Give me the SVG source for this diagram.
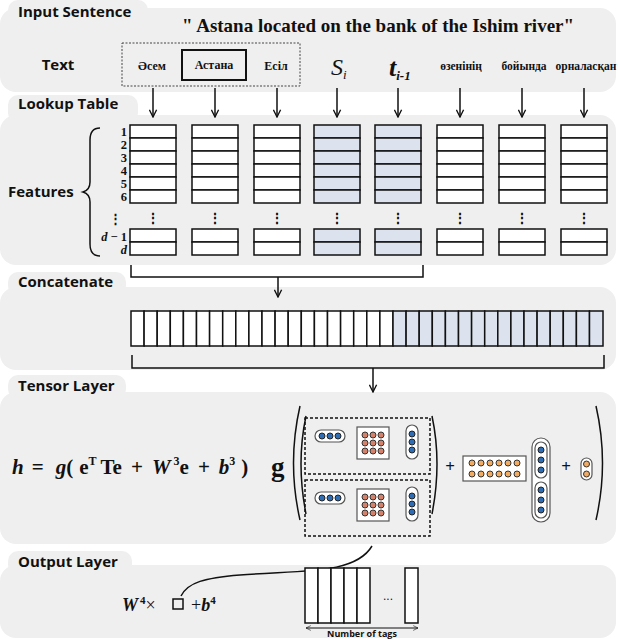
<svg xmlns="http://www.w3.org/2000/svg" width="618" height="640" viewBox="0 0 618 640">
<style>
.pan{fill:#efefef}
.lab{font-family:"Open Sans","Liberation Sans",sans-serif;font-weight:bold;font-size:15px;fill:#111}
.ser{font-family:"Liberation Serif",serif;font-weight:bold;fill:#111}
.cell{fill:#fff;stroke:#111;stroke-width:1.5}
.bcell{fill:#dce3ee;stroke:#111;stroke-width:1.5}
.ln{fill:none;stroke:#111;stroke-width:1.5}
.bd{fill:#2f6db5;stroke:#222;stroke-width:1}
.rd{fill:#d4826b;stroke:#333;stroke-width:1}
.od{fill:#f2ab62;stroke:#333;stroke-width:1}
.cap{fill:#fff;stroke:#555;stroke-width:1.2}
</style>
<defs>
<marker id="ar" viewBox="0 0 10 10" refX="9" refY="5" markerWidth="9" markerHeight="9" orient="auto" markerUnits="userSpaceOnUse"><path d="M1,1 L9,5 L1,9" fill="none" stroke="#111" stroke-width="1.5"/></marker>
<marker id="sa" viewBox="0 0 10 10" refX="9" refY="5" markerWidth="6" markerHeight="6" orient="auto-start-reverse" markerUnits="userSpaceOnUse"><path d="M1,1 L9,5 L1,9" fill="none" stroke="#111" stroke-width="1"/></marker>
<g id="col"><rect class="cell" x="0" y="0" width="46" height="13"/><rect class="cell" x="0" y="13" width="46" height="13"/><rect class="cell" x="0" y="26" width="46" height="13"/><rect class="cell" x="0" y="39" width="46" height="13"/><rect class="cell" x="0" y="52" width="46" height="13"/><rect class="cell" x="0" y="65" width="46" height="13"/><text x="23" y="98" text-anchor="middle" class="ser" font-size="14">⋮</text><rect class="cell" x="0" y="104" width="46" height="13"/><rect class="cell" x="0" y="117" width="46" height="13"/></g>
<g id="bcol"><rect class="bcell" x="0" y="0" width="46" height="13"/><rect class="bcell" x="0" y="13" width="46" height="13"/><rect class="bcell" x="0" y="26" width="46" height="13"/><rect class="bcell" x="0" y="39" width="46" height="13"/><rect class="bcell" x="0" y="52" width="46" height="13"/><rect class="bcell" x="0" y="65" width="46" height="13"/><text x="23" y="98" text-anchor="middle" class="ser" font-size="14">⋮</text><rect class="bcell" x="0" y="104" width="46" height="13"/><rect class="bcell" x="0" y="117" width="46" height="13"/></g>
<g id="blk">
<rect x="0" y="0" width="125" height="56" fill="none" stroke="#111" stroke-width="1.5" stroke-dasharray="3,2"/>
<rect class="cap" x="10" y="12" width="30" height="12" rx="6"/><circle class="bd" cx="17" cy="18" r="3"/><circle class="bd" cx="25" cy="18" r="3"/><circle class="bd" cx="33" cy="18" r="3"/>
<rect x="52" y="9" width="32" height="32" fill="#fff" stroke="#555" stroke-width="1.2"/>
<g class="rd"><circle cx="60" cy="17" r="3"/><circle cx="68" cy="17" r="3"/><circle cx="76" cy="17" r="3"/><circle cx="60" cy="25" r="3"/><circle cx="68" cy="25" r="3"/><circle cx="76" cy="25" r="3"/><circle cx="60" cy="33" r="3"/><circle cx="68" cy="33" r="3"/><circle cx="76" cy="33" r="3"/></g>
<rect class="cap" x="101" y="7" width="12" height="34" rx="6"/><circle class="bd" cx="107" cy="16" r="3"/><circle class="bd" cx="107" cy="24" r="3"/><circle class="bd" cx="107" cy="32" r="3"/>
</g>
</defs>

<g id="panels">
<rect class="pan" x="0" y="8" width="616" height="84" rx="16"/><rect class="pan" x="8" y="0" width="140" height="24" rx="10"/>
<rect class="pan" x="0" y="115" width="616" height="150" rx="16"/><rect class="pan" x="8" y="95" width="130" height="28" rx="10"/>
<rect class="pan" x="0" y="287" width="616" height="83" rx="16"/><rect class="pan" x="8" y="272" width="118" height="24" rx="10"/>
<rect class="pan" x="0" y="392" width="616" height="152" rx="16"/><rect class="pan" x="8" y="375" width="118" height="24" rx="10"/>
<rect class="pan" x="0" y="565" width="616" height="73" rx="16"/><rect class="pan" x="8" y="551" width="124" height="24" rx="10"/>
</g>
<g id="labels">
<text class="lab" x="18" y="17">Input Sentence</text>
<text class="lab" x="18" y="109">Lookup Table</text>
<text class="lab" x="18" y="287">Concatenate</text>
<text class="lab" x="18" y="391">Tensor Layer</text>
<text class="lab" x="18" y="567">Output Layer</text>
</g>

<g id="input">
<text x="378" y="32" font-family="'Liberation Serif',serif" font-weight="bold" font-size="19" fill="#111" text-anchor="middle">" Astana located on the bank of the Ishim river"</text>
<text class="lab" x="58" y="70" text-anchor="middle" font-size="14">Text</text>
<rect x="122" y="43" width="178" height="43" fill="none" stroke="#444" stroke-width="1" stroke-dasharray="2,1.5"/>
<rect x="182" y="50" width="64" height="30" fill="none" stroke="#111" stroke-width="2"/>
<g class="ser" font-size="12" text-anchor="middle">
<text x="152" y="70">Әсем</text><text x="214" y="69">Астана</text><text x="276" y="70">Есіл</text>
<text x="461" y="70" font-size="11.5">өзенінің</text><text x="524" y="70" font-size="11.5">бойында</text><text x="586" y="70" font-size="11.5">орналасқан</text>
</g>
<text x="331" y="75" font-family="'Liberation Serif',serif" font-style="italic" font-size="24" fill="#111">S<tspan font-size="13" dy="4">i</tspan></text>
<text x="389" y="76" font-family="'Liberation Serif',serif" font-style="italic" font-weight="bold" font-size="26" fill="#111">t<tspan font-size="13" dy="4">i-1</tspan></text>
</g>

<g id="lookup">
<use href="#col" x="130" y="125"/><use href="#col" x="192" y="125"/><use href="#col" x="254" y="125"/>
<use href="#bcol" x="314" y="125"/><use href="#bcol" x="375" y="125"/>
<use href="#col" x="437" y="125"/><use href="#col" x="499" y="125"/><use href="#col" x="561" y="125"/>
<g class="ser" font-size="12.5" text-anchor="end">
<text x="127" y="136">1</text><text x="127" y="149">2</text><text x="127" y="162">3</text><text x="127" y="175">4</text><text x="127" y="188">5</text><text x="127" y="201">6</text>
<text x="122" y="223" font-size="13">⋮</text>
<text x="127" y="241"><tspan font-style="italic">d</tspan> − 1</text><text x="127" y="254" font-style="italic">d</text>
</g>
<text class="lab" x="8" y="197" font-size="13">Features</text>
<path class="ln" d="M100,128 Q90,128 90,140 L90,182 Q90,190 83,192 Q90,194 90,202 L90,244 Q90,256 100,256"/>
</g>

<g id="connectors">
<g class="ln" marker-end="url(#ar)">
<line x1="153" y1="88" x2="153" y2="117"/><line x1="215" y1="88" x2="215" y2="117"/><line x1="277" y1="88" x2="277" y2="117"/>
<line x1="337" y1="88" x2="337" y2="117"/><line x1="398" y1="88" x2="398" y2="117"/><line x1="460" y1="88" x2="460" y2="117"/>
<line x1="522" y1="88" x2="522" y2="117"/><line x1="584" y1="88" x2="584" y2="117"/>
<line x1="278" y1="277" x2="278" y2="297"/><line x1="373" y1="368" x2="373" y2="392"/>
</g>
<path class="ln" d="M131,265 V277 H423 V265"/>
<path class="ln" d="M132,355 V368 H604 V355"/>
<path class="ln" d="M372,546 C355,575 300,570 240,575 C205,578 188,582 181,596"/>
<line x1="306" y1="628" x2="418" y2="628" stroke="#111" stroke-width="1" marker-start="url(#sa)" marker-end="url(#sa)"/>
</g>

<g id="concatbar">
<rect class="cell" x="131" y="311" width="13.1" height="35"/><rect class="cell" x="144.1" y="311" width="13.1" height="35"/><rect class="cell" x="157.2" y="311" width="13.1" height="35"/><rect class="cell" x="170.3" y="311" width="13.1" height="35"/><rect class="cell" x="183.4" y="311" width="13.1" height="35"/><rect class="cell" x="196.5" y="311" width="13.1" height="35"/><rect class="cell" x="209.6" y="311" width="13.1" height="35"/><rect class="cell" x="222.7" y="311" width="13.1" height="35"/><rect class="cell" x="235.8" y="311" width="13.1" height="35"/><rect class="cell" x="248.9" y="311" width="13.1" height="35"/><rect class="cell" x="262" y="311" width="13.1" height="35"/><rect class="cell" x="275.1" y="311" width="13.1" height="35"/><rect class="cell" x="288.2" y="311" width="13.1" height="35"/><rect class="cell" x="301.3" y="311" width="13.1" height="35"/><rect class="cell" x="314.4" y="311" width="13.1" height="35"/><rect class="cell" x="327.5" y="311" width="13.1" height="35"/><rect class="cell" x="340.6" y="311" width="13.1" height="35"/><rect class="cell" x="353.7" y="311" width="13.1" height="35"/><rect class="cell" x="366.8" y="311" width="13.1" height="35"/><rect class="cell" x="379.9" y="311" width="13.1" height="35"/>
<rect class="bcell" x="393" y="311" width="13.1" height="35"/><rect class="bcell" x="406.1" y="311" width="13.1" height="35"/><rect class="bcell" x="419.2" y="311" width="13.1" height="35"/><rect class="bcell" x="432.3" y="311" width="13.1" height="35"/><rect class="bcell" x="445.4" y="311" width="13.1" height="35"/><rect class="bcell" x="458.5" y="311" width="13.1" height="35"/><rect class="bcell" x="471.6" y="311" width="13.1" height="35"/><rect class="bcell" x="484.7" y="311" width="13.1" height="35"/><rect class="bcell" x="497.8" y="311" width="13.1" height="35"/><rect class="bcell" x="510.9" y="311" width="13.1" height="35"/><rect class="bcell" x="524" y="311" width="13.1" height="35"/><rect class="bcell" x="537.1" y="311" width="13.1" height="35"/><rect class="bcell" x="550.2" y="311" width="13.1" height="35"/><rect class="bcell" x="563.3" y="311" width="13.1" height="35"/><rect class="bcell" x="576.4" y="311" width="13.1" height="35"/><rect class="bcell" x="589.5" y="311" width="13.5" height="35"/>
</g>

<g id="tensor">
<text x="12" y="474" font-family="'Liberation Serif',serif" font-weight="bold" font-size="21" fill="#111"><tspan font-style="italic">h</tspan><tspan dx="8">=</tspan><tspan dx="12" font-style="italic">g</tspan>(<tspan dx="6">e</tspan><tspan font-size="12" dy="-9">T</tspan><tspan dy="9" dx="4">Te</tspan><tspan dx="9">+</tspan><tspan dx="9" font-style="italic">W</tspan><tspan font-size="12" dy="-9" dx="3">3</tspan><tspan dy="9">e</tspan><tspan dx="9">+</tspan><tspan dx="9" font-style="italic">b</tspan><tspan font-size="12" dy="-9">3</tspan><tspan dy="9" dx="6">)</tspan></text>
<text x="271" y="476" font-family="'Liberation Serif',serif" font-weight="bold" font-size="27" fill="#111">g</text>
<path class="ln" d="M300,406 Q287,463 300,520"/><path class="ln" d="M596,406 Q609,463 596,520"/>
<path class="ln" d="M306,416 Q296,463 306,514"/><path class="ln" d="M432,416 Q442,463 432,514"/>
<use href="#blk" x="305" y="418"/><use href="#blk" x="305" y="480"/>
<text x="450" y="472" class="ser" font-size="17" text-anchor="middle">+</text>
<rect x="463" y="456" width="63" height="25" fill="#fff" stroke="#555" stroke-width="1.2"/>
<g class="od"><circle cx="472" cy="463" r="3"/><circle cx="481" cy="463" r="3"/><circle cx="490" cy="463" r="3"/><circle cx="499" cy="463" r="3"/><circle cx="508" cy="463" r="3"/><circle cx="517" cy="463" r="3"/><circle cx="472" cy="474" r="3"/><circle cx="481" cy="474" r="3"/><circle cx="490" cy="474" r="3"/><circle cx="499" cy="474" r="3"/><circle cx="508" cy="474" r="3"/><circle cx="517" cy="474" r="3"/></g>
<rect class="cap" x="532" y="438" width="18" height="84" rx="9"/>
<rect class="cap" x="535" y="442" width="12" height="36" rx="6"/><rect class="cap" x="535" y="482" width="12" height="36" rx="6"/>
<g class="bd"><circle cx="541" cy="450" r="3"/><circle cx="541" cy="460" r="3"/><circle cx="541" cy="470" r="3"/><circle cx="541" cy="490" r="3"/><circle cx="541" cy="500" r="3"/><circle cx="541" cy="510" r="3"/></g>
<text x="566" y="472" class="ser" font-size="17" text-anchor="middle">+</text>
<rect class="cap" x="581" y="458" width="11" height="22" rx="5.5"/><circle class="od" cx="586.5" cy="464" r="3"/><circle class="od" cx="586.5" cy="474" r="3"/>
</g>

<g id="output">
<text x="122" y="611" font-family="'Liberation Serif',serif" font-size="18" fill="#111"><tspan font-style="italic" font-weight="bold">W</tspan><tspan font-size="11" dy="-7" font-weight="bold" dx="2">4</tspan><tspan dy="7">×</tspan></text>
<rect x="173" y="599" width="10" height="10" fill="none" stroke="#111" stroke-width="1.5"/>
<text x="191" y="611" font-family="'Liberation Serif',serif" font-size="18" fill="#111">+<tspan font-style="italic" font-weight="bold">b</tspan><tspan font-size="11" dy="-7" font-weight="bold">4</tspan></text>
<rect class="cell" x="305" y="568" width="13" height="55"/><rect class="cell" x="318" y="568" width="13" height="55"/><rect class="cell" x="331" y="568" width="13" height="55"/><rect class="cell" x="344" y="568" width="13" height="55"/><rect class="cell" x="357" y="568" width="13" height="55"/>
<text x="388" y="600" font-family="'Liberation Sans',sans-serif" font-size="12" text-anchor="middle" fill="#111">...</text>
<rect class="cell" x="405" y="568" width="13" height="55"/>
<text x="362" y="637" font-family="'Open Sans','Liberation Sans',sans-serif" font-weight="bold" font-size="9" text-anchor="middle" fill="#111">Number of tags</text>
</g>
</svg>
